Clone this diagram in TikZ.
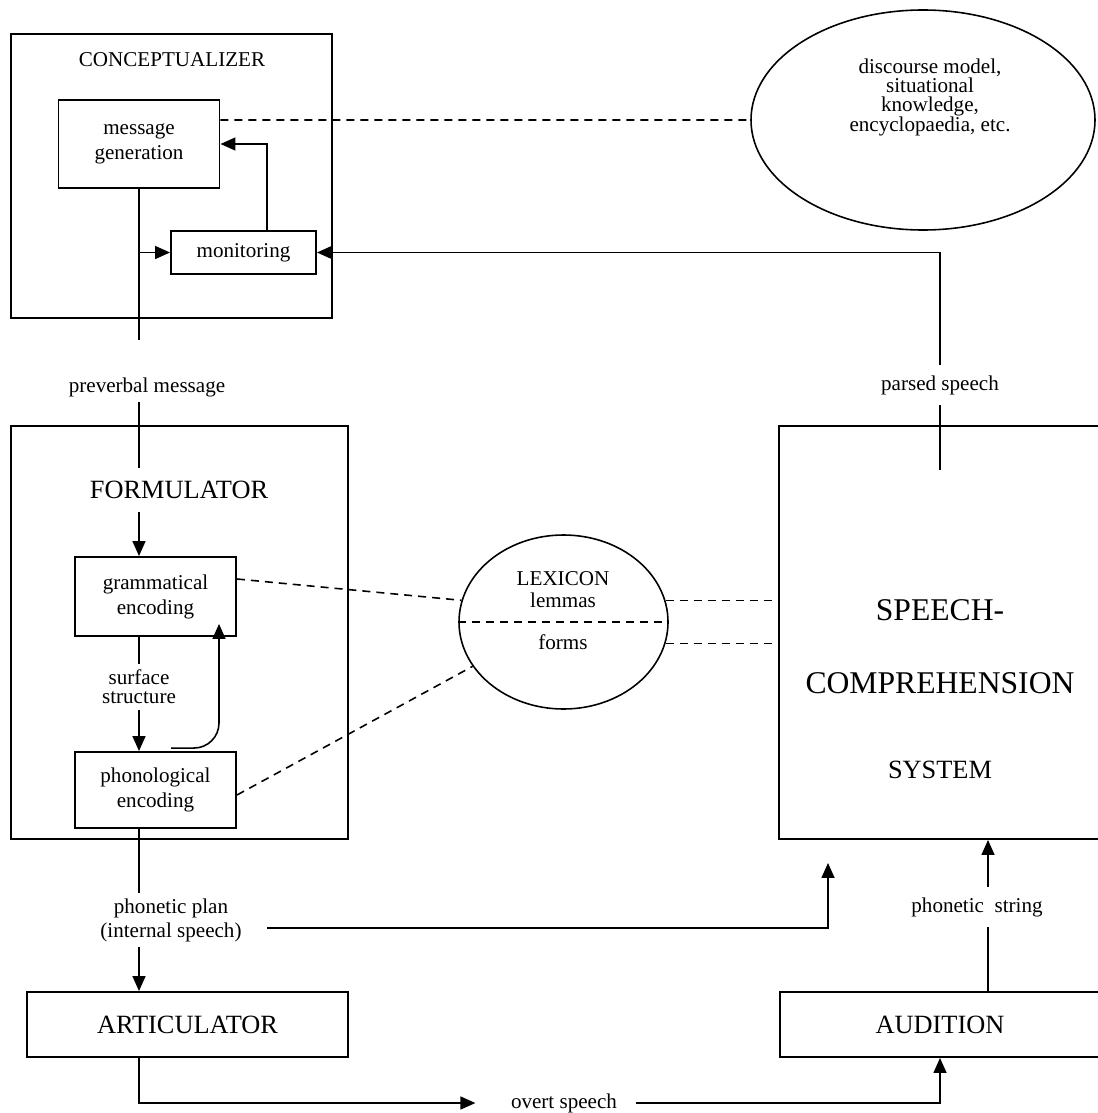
\documentclass[tikz,border=0pt]{standalone}
\usepackage{fontspec}
\setmainfont{Liberation Serif}
\usetikzlibrary{arrows.meta,shapes.geometric}

\begin{document}
\begin{tikzpicture}[x=0.2mm,y=-0.2mm,
  box/.style={draw,line width=1.1pt,inner sep=0pt,align=center,font=\fontsize{12}{14.2}\selectfont},
  lbl/.style={inner sep=3pt,align=center,font=\fontsize{12}{13.7}\selectfont},
  con/.style={line width=0.9pt},
  arr/.style={line width=0.9pt,-{Triangle[length=3mm,width=2.6mm]}},
  dsh/.style={line width=0.9pt,dash pattern=on 1.6mm off 1.2mm}]

	\useasboundingbox (0,0) rectangle (1097,1113);

	% conceptualizer
	\node[box,minimum width=64.2mm,minimum height=56.8mm] (concept) at (171.5,176) {};
	\node[lbl] (concepttitle) at (172,60) {CONCEPTUALIZER};
	\node[box,minimum width=32.2mm,minimum height=17.6mm] (msg) at (139,144) {message\\generation};
	\node[box,minimum width=29mm,minimum height=8.6mm] (mon) at (243.5,252.5) {monitoring};

	\node[draw,ellipse,con,minimum width=68.8mm,minimum height=44mm] (disc) at (923,120) {};
	\node[lbl,font=\fontsize{12}{11}\selectfont] (disctext) at (930,97) {discourse model,\\situational\\knowledge,\\encyclopaedia, etc.};

	% formulator
	\node[box,minimum width=67.4mm,minimum height=82.6mm] (form) at (179.5,632.5) {};
	\node[lbl,font=\fontsize{15}{18}\selectfont,inner sep=7pt] (formtitle) at (179,490) {FORMULATOR};
	\node[box,minimum width=32.2mm,minimum height=15.8mm] (gram) at (155.5,596.5) {grammatical\\encoding};
	\node[box,minimum width=32.2mm,minimum height=15.2mm] (phon) at (155.5,790) {phonological\\encoding};

	% lexicon
	\node[draw,ellipse,con,minimum width=41.8mm,minimum height=34.8mm] (lex) at (563.5,622) {};
	\node[lbl,font=\fontsize{12}{12.5}\selectfont] (lexhead) at (563,590) {LEXICON\\lemmas};
	\node[lbl] (lexforms) at (563,642) {forms};

	% speech comprehension
	\node[box,minimum width=64.4mm,minimum height=82.6mm] (scs) at (940,632.5) {};
	\node[lbl,font=\fontsize{18}{20}\selectfont] (scs1) at (940,610) {SPEECH-};
	\node[lbl,font=\fontsize{18}{20}\selectfont] (scs2) at (940,683) {COMPREHENSION};
	\node[lbl,font=\fontsize{15}{18}\selectfont] (scs3) at (940,770) {SYSTEM};

	\node[box,font=\fontsize{15}{18}\selectfont,minimum width=64.2mm,minimum height=13mm] (artic) at (187.5,1024.5) {ARTICULATOR};
	\node[box,font=\fontsize{15}{18}\selectfont,minimum width=64mm,minimum height=13mm] (audi) at (940,1024.5) {AUDITION};

	% labels on the lines
	\node[lbl] (preverb) at (147,387) {preverbal message};
	\node[lbl,font=\fontsize{12}{10.8}\selectfont] (surf) at (139,687) {surface\\structure};
	\node[lbl] (plan) at (171,920) {phonetic plan\\(internal speech)};
	\node[lbl,inner sep=6pt] (parsed) at (940,385) {parsed speech};
	\node[lbl,inner sep=6pt] (str) at (977,907) {phonetic\ \ string};
	\node[lbl] (overt) at (564,1103) {overt speech};

	% left column
	\draw[con,shorten >=6.4mm] (msg.south) -- (msg.south |- preverb.north);
	\draw[con] (msg.south |- preverb.south) -- (msg.south |- formtitle.north);
	\draw[arr] (msg.south |- formtitle.south) -- (msg.south |- gram.north);
	\draw[con] (msg.south |- gram.south) -- (msg.south |- surf.north);
	\draw[arr] (msg.south |- surf.south) -- (msg.south |- phon.north);
	\draw[con] (msg.south |- phon.south) -- (msg.south |- plan.north);
	\draw[arr] (msg.south |- plan.south) -- (msg.south |- artic.north);
	\draw[arr,shorten >=6mm] (msg.south |- artic.south) |- (overt.west);
	\draw[arr,shorten <=2.6mm] (overt.east) -| (audi.south);

	\draw[arr] (msg.south |- mon.west) -- (mon.west);
	\draw[arr] ([xshift=4.7mm]mon.north) |- (msg.east);
	\draw[arr,rounded corners=5mm] ([xshift=3.1mm,yshift=0.6mm]phon.north) -| ([xshift=12.7mm,yshift=2.6mm]gram.south);

	% dashed links
	\draw[dsh] ([yshift=4.8mm]msg.east) -- (disc.west);
	\draw[dsh] ([yshift=3.5mm]gram.east) -- (lex.168);
	\draw[dsh] ([yshift=-1mm]phon.east) -- (lex.206);
	\draw[dsh,shorten >=1.2mm] (lex.12) -- (lex.12 -| scs.west);
	\draw[dsh,shorten >=1.2mm] (lex.348) -- (lex.348 -| scs.west);
	\draw[dsh] (lex.west) -- (lex.east);

	% right column
	\draw[con] ([yshift=-9mm]scs.north) -- (parsed.south);
	\draw[arr] (parsed.north) |- (mon.east);
	\draw[arr] ([xshift=4mm,yshift=-1.6mm]plan.east) -| ([xshift=-22.4mm,yshift=-4.6mm]scs.south);
	\coordinate (strline) at ([xshift=2.2mm]str.center);
	\draw[con] (strline |- audi.north) -- (strline |- str.south);
	\draw[arr] (strline |- str.north) -- (strline |- scs.south);
\end{tikzpicture}
\end{document}
